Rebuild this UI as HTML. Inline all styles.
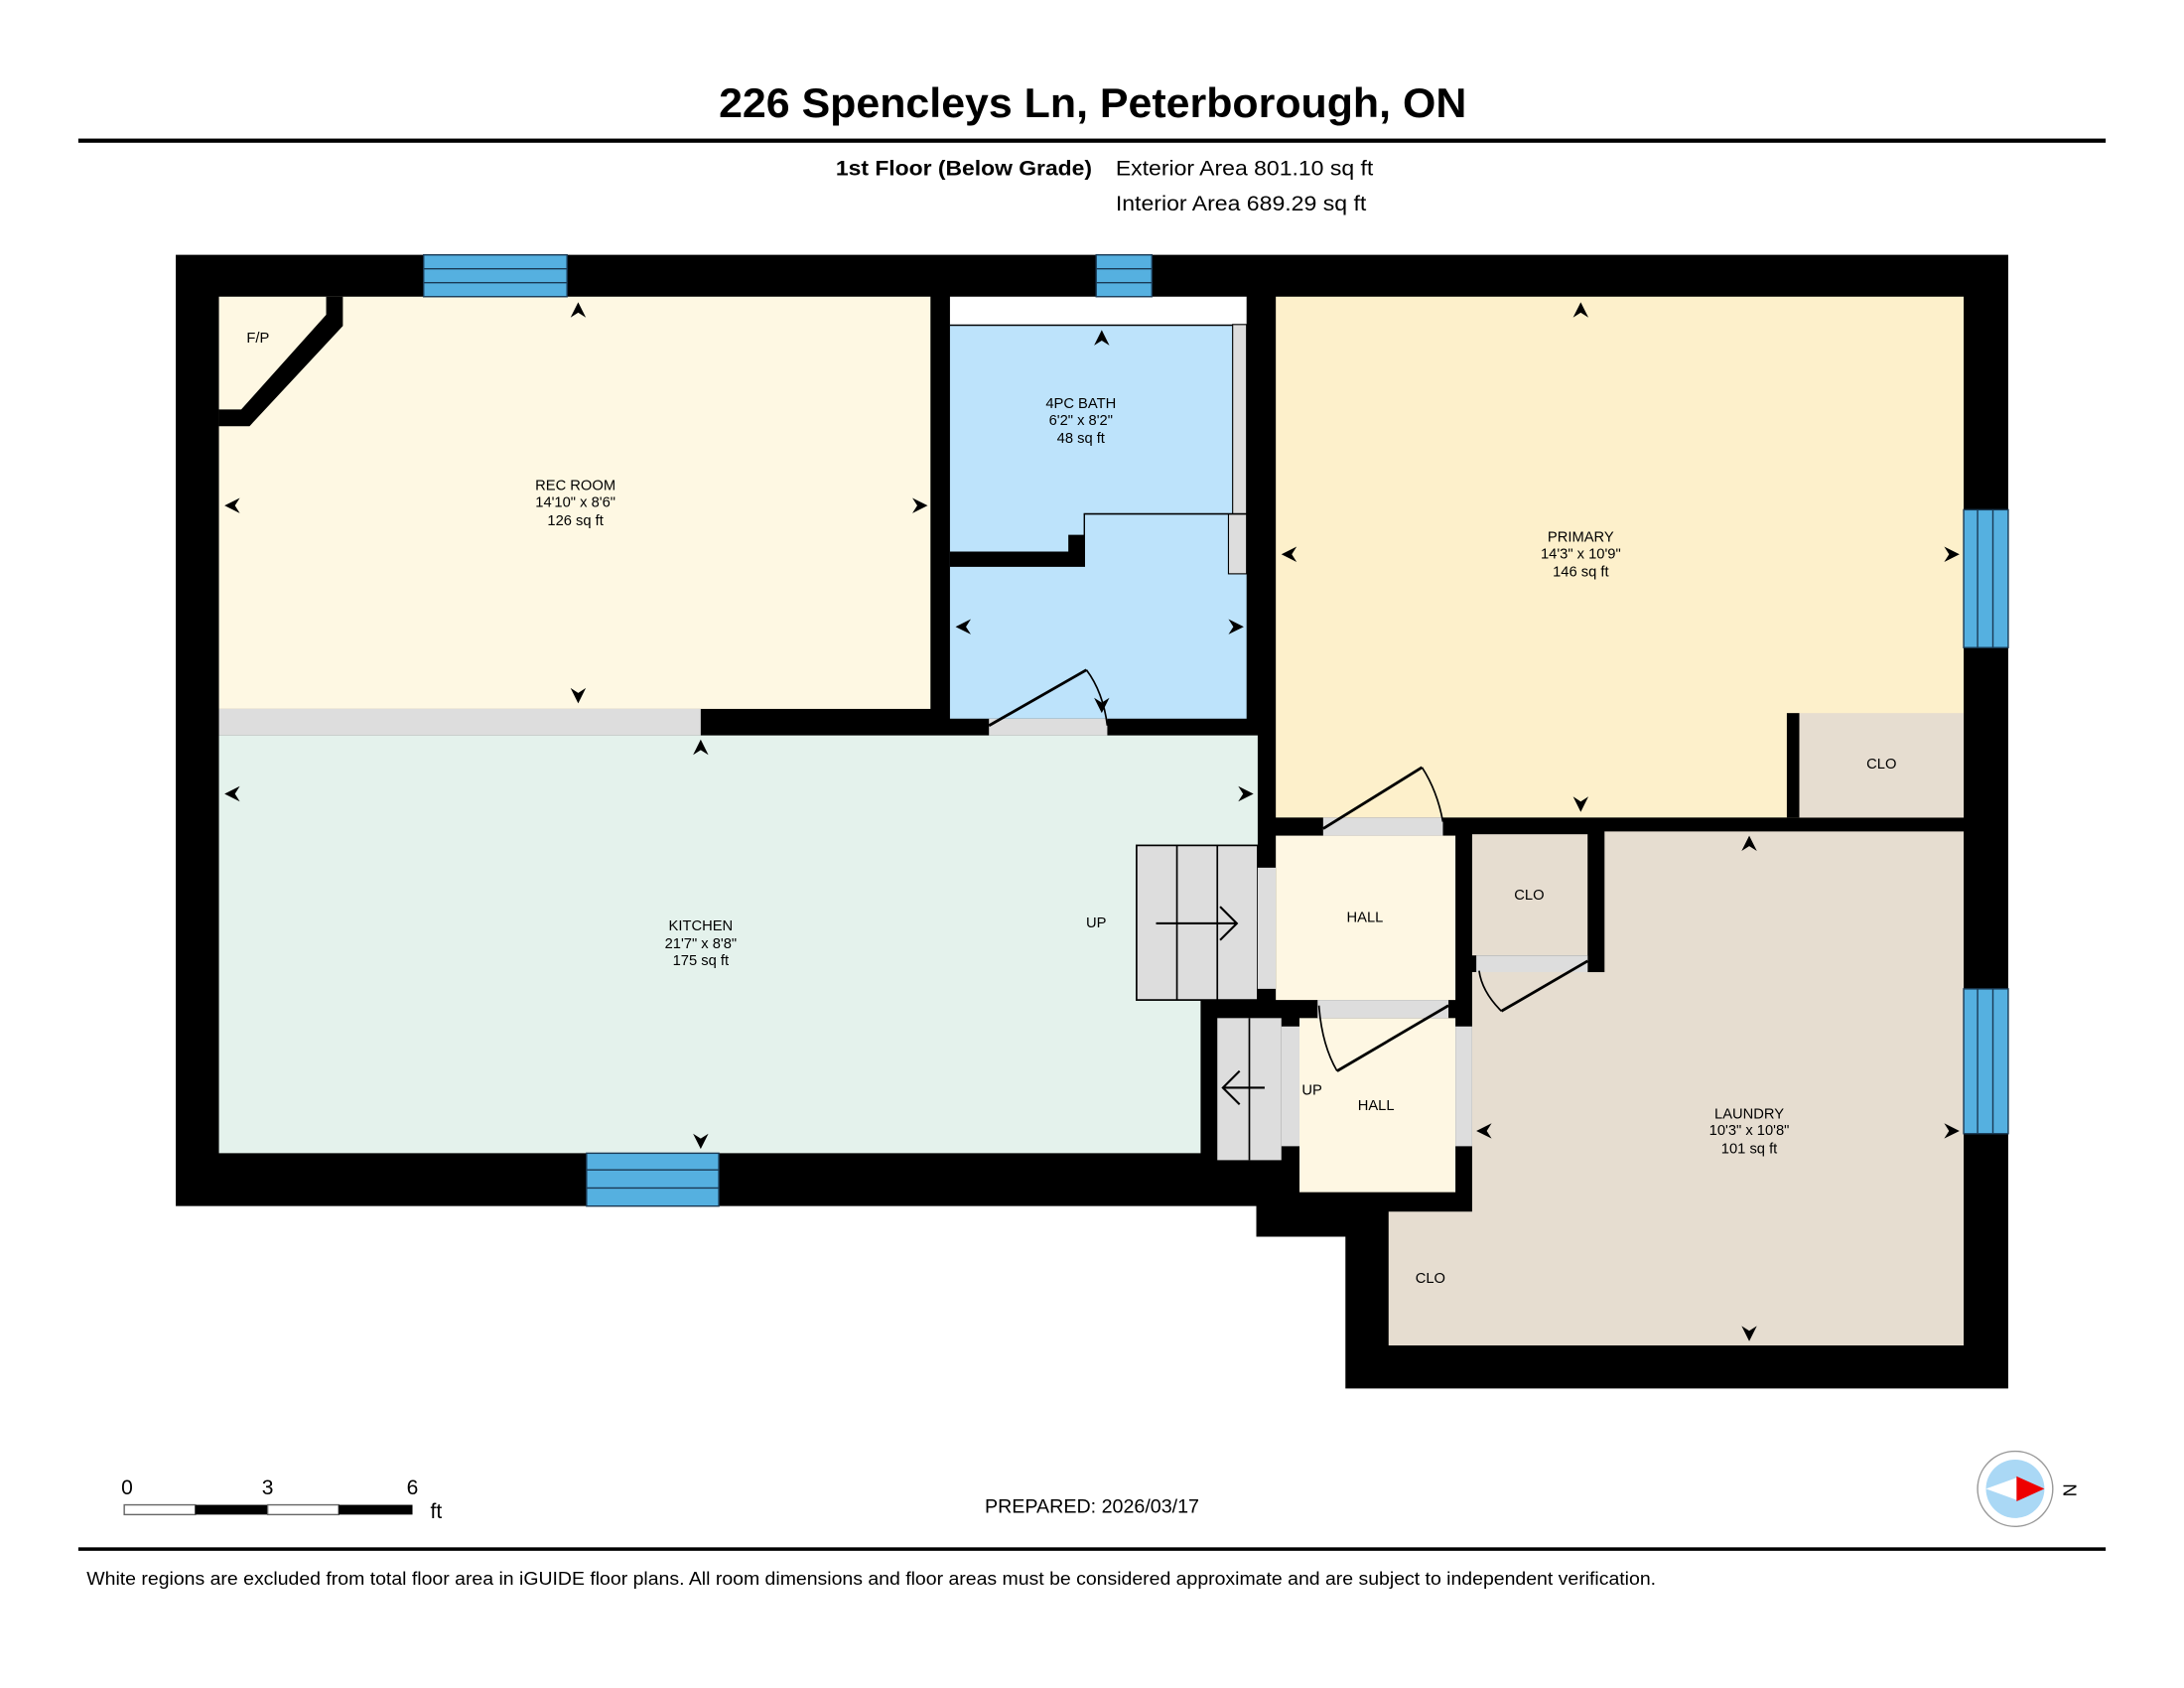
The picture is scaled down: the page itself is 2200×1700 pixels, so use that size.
<!DOCTYPE html>
<html><head><meta charset="utf-8"><style>
html,body{margin:0;padding:0;background:#fff;}
svg{display:block;}
text{font-family:"Liberation Sans",Arial,sans-serif;}
</style></head><body>
<svg width="2200" height="1700" viewBox="0 0 1568 1212" xmlns="http://www.w3.org/2000/svg">
<defs>
<path id="ar" d="M0,0 L-11,-5.5 L-7.5,0 L-11,5.5 Z" fill="#000"/>
</defs>
<rect width="1568" height="1212" fill="#fff"/>
<text x="516" y="84" font-size="30" font-weight="bold" textLength="537" lengthAdjust="spacingAndGlyphs">226 Spencleys Ln, Peterborough, ON</text>
<rect x="56" y="99.5" width="1456" height="3" fill="#000"/>
<text x="600" y="126" font-size="15" font-weight="bold" textLength="184" lengthAdjust="spacingAndGlyphs">1st Floor (Below Grade)</text>
<text x="801" y="126" font-size="15" textLength="185" lengthAdjust="spacingAndGlyphs">Exterior Area 801.10 sq ft</text>
<text x="801" y="151" font-size="15" textLength="180" lengthAdjust="spacingAndGlyphs">Interior Area 689.29 sq ft</text>

<path d="M126,183 L1442,183 L1442,997 L966,997 L966,888 L902,888 L902,866 L126,866 Z" fill="#000"/>

<rect x="157" y="213" width="511" height="296" fill="#fef8e3"/>
<path d="M234,213 L246,213 L246,234 L179,306 L157,306 L157,294 L173,294 L234,226 Z" fill="#000"/>
<text x="185" y="246" font-size="10.5" text-anchor="middle">F/P</text>
<rect x="157" y="509" width="346" height="19" fill="#ddd"/>

<rect x="682" y="213" width="213" height="20" fill="#fff"/>
<rect x="682" y="233" width="213" height="283" fill="#bde3fb"/>
<line x1="682" y1="233.5" x2="895" y2="233.5" stroke="#000" stroke-width="1"/>
<rect x="885" y="233" width="10" height="136" fill="#ddd" stroke="#000" stroke-width="0.8"/>
<rect x="882" y="369" width="13" height="43" fill="#ddd" stroke="#000" stroke-width="0.8"/>
<path d="M778,369 L895,369" stroke="#000" stroke-width="1.2"/>
<path d="M682,396 L767,396 L767,384 L778,384 L778,369 L779,369 L779,407 L682,407 Z" fill="#000"/>
<rect x="710" y="516" width="85" height="12" fill="#ddd"/>
<path d="M710,521 L780,481" stroke="#000" stroke-width="2" fill="none"/>
<path d="M780,481 Q792,497 795,521" stroke="#000" stroke-width="1.2" fill="none"/>
<text x="776" y="293" font-size="10.5" text-anchor="middle">4PC BATH</text>
<text x="776" y="305" font-size="10.5" text-anchor="middle">6'2" x 8'2"</text>
<text x="776" y="318" font-size="10.5" text-anchor="middle">48 sq ft</text>

<path d="M157,528 L903,528 L903,718 L862,718 L862,828 L157,828 Z" fill="#e4f2ec"/>
<rect x="816" y="607" width="87" height="111" fill="#ddd" stroke="#000" stroke-width="1.2"/>
<line x1="845" y1="607" x2="845" y2="718" stroke="#000" stroke-width="1.2"/>
<line x1="874" y1="607" x2="874" y2="718" stroke="#000" stroke-width="1.2"/>
<path d="M830,663 L888,663 M876,651 L888,663 L876,675" stroke="#000" stroke-width="1.5" fill="none"/>
<rect x="903" y="623" width="13" height="87" fill="#ddd"/>
<text x="787" y="666" font-size="10.5" text-anchor="middle">UP</text>
<text x="503" y="668" font-size="10.5" text-anchor="middle">KITCHEN</text>
<text x="503" y="681" font-size="10.5" text-anchor="middle">21'7" x 8'8"</text>
<text x="503" y="693" font-size="10.5" text-anchor="middle">175 sq ft</text>

<rect x="916" y="213" width="494" height="374" fill="#fdf0cb"/>
<rect x="1283" y="512" width="9" height="75" fill="#000"/>
<rect x="1292" y="512" width="118" height="75" fill="#e6ddd0"/>
<text x="1351" y="552" font-size="10.5" text-anchor="middle">CLO</text>
<rect x="950" y="587" width="86" height="13" fill="#ddd"/>
<path d="M950,595 L1021,551" stroke="#000" stroke-width="2" fill="none"/>
<path d="M1021,551 Q1032,568 1036,590" stroke="#000" stroke-width="1.2" fill="none"/>
<text x="1135" y="389" font-size="10.5" text-anchor="middle">PRIMARY</text>
<text x="1135" y="401" font-size="10.5" text-anchor="middle">14'3" x 10'9"</text>
<text x="1135" y="414" font-size="10.5" text-anchor="middle">146 sq ft</text>

<rect x="916" y="600" width="129" height="118" fill="#fef7e3"/>
<text x="980" y="662" font-size="10.5" text-anchor="middle">HALL</text>

<path d="M1152,597 L1410,597 L1410,966 L997,966 L997,870 L1057,870 L1057,698 L1152,698 Z" fill="#e6ddd0"/>
<rect x="1057" y="599" width="83" height="87" fill="#e6ddd0"/>
<rect x="1140" y="597" width="12" height="101" fill="#000"/>
<rect x="1060" y="686" width="80" height="12" fill="#ddd"/>
<path d="M1140,690 L1078,726" stroke="#000" stroke-width="2" fill="none"/>
<path d="M1078,726 Q1064,712 1062,697" stroke="#000" stroke-width="1.2" fill="none"/>
<text x="1098" y="646" font-size="10.5" text-anchor="middle">CLO</text>
<text x="1027" y="921" font-size="10.5" text-anchor="middle">CLO</text>
<text x="1256" y="803" font-size="10.5" text-anchor="middle">LAUNDRY</text>
<text x="1256" y="815" font-size="10.5" text-anchor="middle">10'3" x 10'8"</text>
<text x="1256" y="828" font-size="10.5" text-anchor="middle">101 sq ft</text>

<rect x="933" y="731" width="112" height="125" fill="#fef7e3"/>
<rect x="946" y="718" width="94" height="13" fill="#ddd"/>
<rect x="1045" y="737" width="12" height="86" fill="#ddd"/>
<rect x="920" y="737" width="13" height="86" fill="#ddd"/>
<path d="M1040,722 L960,769" stroke="#000" stroke-width="2" fill="none"/>
<path d="M960,769 Q949,750 947,722" stroke="#000" stroke-width="1.2" fill="none"/>
<text x="988" y="797" font-size="10.5" text-anchor="middle">HALL</text>
<text x="942" y="786" font-size="10.5" text-anchor="middle">UP</text>
<rect x="874" y="731" width="46" height="102" fill="#ddd"/>
<line x1="897" y1="731" x2="897" y2="833" stroke="#000" stroke-width="1.2"/>
<path d="M908,781 L878,781 M890,769 L878,781 L890,793" stroke="#000" stroke-width="1.5" fill="none"/>

<text x="413" y="352" font-size="10.5" text-anchor="middle">REC ROOM</text>
<text x="413" y="364" font-size="10.5" text-anchor="middle">14'10" x 8'6"</text>
<text x="413" y="377" font-size="10.5" text-anchor="middle">126 sq ft</text>

<g fill="#55b0e0" stroke="#1a3a55" stroke-width="1">
<rect x="304" y="183" width="103" height="30"/>
<line x1="304" y1="193" x2="407" y2="193"/><line x1="304" y1="203" x2="407" y2="203"/>
<rect x="787" y="183" width="40" height="30"/>
<line x1="787" y1="193" x2="827" y2="193"/><line x1="787" y1="203" x2="827" y2="203"/>
<rect x="421" y="828" width="95" height="38"/>
<line x1="421" y1="840" x2="516" y2="840"/><line x1="421" y1="853" x2="516" y2="853"/>
<rect x="1410" y="366" width="32" height="99"/>
<line x1="1420" y1="366" x2="1420" y2="465"/><line x1="1431" y1="366" x2="1431" y2="465"/>
<rect x="1410" y="710" width="32" height="104"/>
<line x1="1420" y1="710" x2="1420" y2="814"/><line x1="1431" y1="710" x2="1431" y2="814"/>
</g>

<use href="#ar" transform="translate(415,217) rotate(-90)"/>
<use href="#ar" transform="translate(415,505) rotate(90)"/>
<use href="#ar" transform="translate(161,363) rotate(180)"/>
<use href="#ar" transform="translate(666,363)"/>
<use href="#ar" transform="translate(791,237) rotate(-90)"/>
<use href="#ar" transform="translate(791,512) rotate(90)"/>
<use href="#ar" transform="translate(686,450) rotate(180)"/>
<use href="#ar" transform="translate(893,450)"/>
<use href="#ar" transform="translate(503,531) rotate(-90)"/>
<use href="#ar" transform="translate(503,825) rotate(90)"/>
<use href="#ar" transform="translate(161,570) rotate(180)"/>
<use href="#ar" transform="translate(900,570)"/>
<use href="#ar" transform="translate(1135,217) rotate(-90)"/>
<use href="#ar" transform="translate(1135,583) rotate(90)"/>
<use href="#ar" transform="translate(920,398) rotate(180)"/>
<use href="#ar" transform="translate(1407,398)"/>
<use href="#ar" transform="translate(1256,600) rotate(-90)"/>
<use href="#ar" transform="translate(1256,963) rotate(90)"/>
<use href="#ar" transform="translate(1060,812) rotate(180)"/>
<use href="#ar" transform="translate(1407,812)"/>

<text x="91" y="1073" font-size="15" text-anchor="middle">0</text>
<text x="192" y="1073" font-size="15" text-anchor="middle">3</text>
<text x="296" y="1073" font-size="15" text-anchor="middle">6</text>
<rect x="89" y="1080.5" width="51" height="7" fill="#fff" stroke="#666" stroke-width="1"/>
<rect x="140" y="1080.5" width="52" height="7" fill="#000"/>
<rect x="192" y="1080.5" width="51" height="7" fill="#fff" stroke="#666" stroke-width="1"/>
<rect x="243" y="1080.5" width="53" height="7" fill="#000"/>
<text x="313" y="1090" font-size="15" text-anchor="middle">ft</text>

<text x="707" y="1086" font-size="13.5" textLength="154" lengthAdjust="spacingAndGlyphs">PREPARED: 2026/03/17</text>

<circle cx="1447" cy="1069" r="27" fill="#fff" stroke="#999" stroke-width="1"/>
<circle cx="1447" cy="1069" r="21" fill="#aad8f5"/>
<path d="M1426,1069 L1448,1061 L1448,1077 Z" fill="#fff"/>
<path d="M1468,1069 L1448,1060 L1448,1078 Z" fill="#e00"/>
<text x="1485" y="1070" font-size="13" text-anchor="middle" transform="rotate(90 1485 1070)" dominant-baseline="middle">N</text>

<rect x="56" y="1111" width="1456" height="2.5" fill="#000"/>
<text x="62" y="1138" font-size="13" textLength="1127" lengthAdjust="spacingAndGlyphs">White regions are excluded from total floor area in iGUIDE floor plans. All room dimensions and floor areas must be considered approximate and are subject to independent verification.</text>
</svg>
</body></html>
